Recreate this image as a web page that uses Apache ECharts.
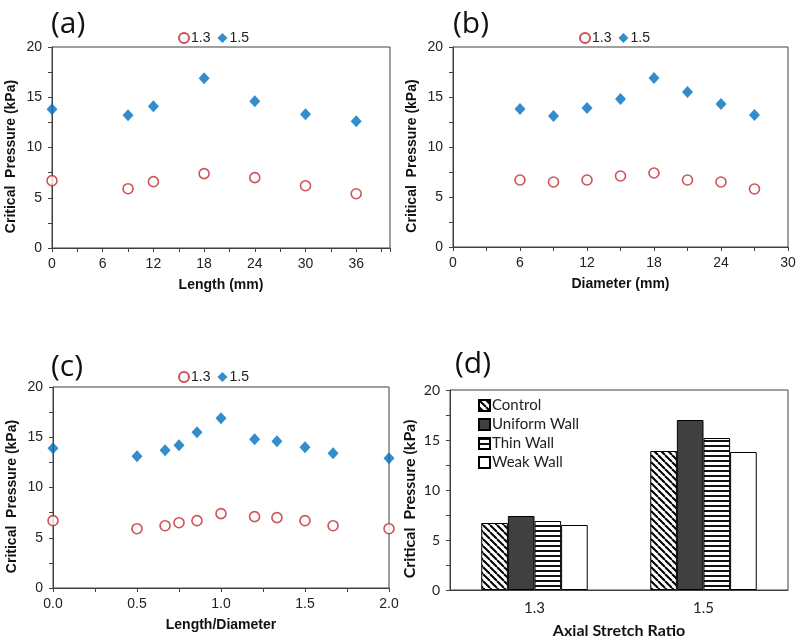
<!DOCTYPE html>
<html>
<head>
<meta charset="utf-8">
<script src="https://cdn.jsdelivr.net/npm/echarts@6/dist/echarts.min.js"></script>
<style>html,body{margin:0;padding:0;background:#fff;}#main{width:800px;height:640px;}</style>
</head>
<body>
<div id="main"></div>
<script>
// ---- data ----
const lengthMM = [0, 9, 12, 18, 24, 30, 36];
const lenP13 = [6.7, 5.9, 6.6, 7.4, 7.0, 6.2, 5.4];
const lenP15 = [13.8, 13.2, 14.1, 16.9, 14.6, 13.3, 12.6];

const diamMM = [6, 9, 12, 15, 18, 21, 24, 27];
const diamP13 = [6.7, 6.5, 6.7, 7.1, 7.4, 6.7, 6.5, 5.8];
const diamP15 = [13.8, 13.1, 13.9, 14.8, 16.9, 15.5, 14.3, 13.2];

const ratioLD = [0, 0.5, 0.667, 0.75, 0.857, 1.0, 1.2, 1.333, 1.5, 1.667, 2.0];
const ldP13 = [6.7, 5.9, 6.2, 6.5, 6.7, 7.4, 7.1, 7.0, 6.7, 6.2, 5.9];
const ldP15 = [13.9, 13.1, 13.7, 14.2, 15.5, 16.9, 14.8, 14.6, 14.0, 13.4, 12.9];

const stretchCats = ['1.3', '1.5'];
const controlP = [6.7, 13.9];
const uniformP = [7.4, 17.0];
const thinP = [6.9, 15.2];
const weakP = [6.5, 13.8];

const seriesNames = ['1.3', '1.5'];
const barNames = ['Control', 'Uniform Wall', 'Thin Wall', 'Weak Wall'];

// ---- styles ----
const RED = '#C0282D', BLUE = '#0070C0', AXC = '#404040';
const FONT = 'Liberation Sans, Arial, sans-serif';
const FONT_D = 'Lato, Open Sans, sans-serif';

function zip(xs, ys) { return xs.map((x, i) => [x, ys[i]]); }

function diagPattern() {
  const c = document.createElement('canvas'); c.width = 7; c.height = 7;
  const g = c.getContext('2d');
  g.fillStyle = '#fff'; g.fillRect(0, 0, 7, 7);
  g.strokeStyle = '#000'; g.lineWidth = 2;
  for (const k of [-7, 0, 7]) { g.beginPath(); g.moveTo(k, 0); g.lineTo(k + 7, 7); g.stroke(); }
  return { image: c, repeat: 'repeat' };
}
function hPattern() {
  const c = document.createElement('canvas'); c.width = 4; c.height = 5;
  const g = c.getContext('2d');
  g.fillStyle = '#fff'; g.fillRect(0, 0, 4, 5);
  g.fillStyle = '#111'; g.fillRect(0, 0, 4, 2);
  return { image: c, repeat: 'repeat' };
}

const grids = [
  { left: 52, top: 47, width: 338, height: 201 },
  { left: 453, top: 47, width: 335, height: 200 },
  { left: 53, top: 387, width: 336, height: 201 },
  { left: 450, top: 390, width: 338, height: 203 }
].map(g => Object.assign(g, { show: true, borderColor: AXC, borderWidth: 1, backgroundColor: 'transparent' }));

function valX(gi, min, max, interval, name, fmt, minor) {
  return {
    type: 'value', gridIndex: gi, min, max, interval,
    name, nameLocation: 'middle', nameGap: 30,
    nameTextStyle: { fontFamily: FONT, fontWeight: 'bold', fontSize: 14, color: '#111' },
    axisLine: { show: true, onZero: false, lineStyle: { color: AXC, width: 1 } },
    axisTick: { show: true, length: 4, lineStyle: { color: AXC } },
    minorTick: { show: !!minor, splitNumber: minor || 5, length: 4, lineStyle: { color: AXC } },
    splitLine: { show: false },
    axisLabel: { fontFamily: FONT, fontSize: 14, color: '#222', margin: 9, formatter: fmt, showMaxLabel: true }
  };
}
function valY(gi, fontFam, nameGap, nameSize) {
  return {
    type: 'value', gridIndex: gi, min: 0, max: 20, interval: 5,
    name: 'Critical  Pressure (kPa)', nameLocation: 'middle', nameGap: nameGap,
    nameTextStyle: { fontFamily: fontFam, fontWeight: 'bold', fontSize: nameSize, color: '#111', padding: [0, 18, 0, 0] },
    axisLine: { show: true, onZero: false, lineStyle: { color: AXC, width: 1 } },
    axisTick: { show: true, length: 4, lineStyle: { color: AXC } },
    minorTick: { show: true, splitNumber: 2, length: 4, lineStyle: { color: AXC } },
    splitLine: { show: false },
    axisLabel: { fontFamily: fontFam, fontSize: 14, color: '#222', margin: 10 }
  };
}

const xAxes = [
  valX(0, 0, 40, 3, 'Length (mm)', v => (v % 6 === 0 ? String(v) : '')),
  valX(1, 0, 30, 6, 'Diameter (mm)', v => String(v), 2),
  valX(2, 0, 2, 0.5, 'Length/Diameter', v => v.toFixed(1), 2),
  {
    type: 'category', gridIndex: 3, data: stretchCats,
    name: 'Axial Stretch Ratio', nameLocation: 'middle', nameGap: 33,
    nameTextStyle: { fontFamily: FONT_D, fontWeight: 'bold', fontSize: 16, color: '#111' },
    axisLine: { show: true, lineStyle: { color: AXC } },
    axisTick: { show: false },
    axisLabel: { fontFamily: FONT_D, fontSize: 15, color: '#222', margin: 11 }
  }
];
const yAxes = [valY(0, FONT, 34, 14), valY(1, FONT, 34, 14), valY(2, FONT, 34, 14), valY(3, FONT_D, 32, 16)];

function scatterPair(gi, xs, y13, y15) {
  return [
    { name: seriesNames[0], type: 'scatter', xAxisIndex: gi, yAxisIndex: gi, clip: false,
      symbol: 'circle', symbolSize: 10,
      itemStyle: { color: '#fff', borderColor: RED, borderWidth: 1.6 },
      data: zip(xs, y13) },
    { name: seriesNames[1], type: 'scatter', xAxisIndex: gi, yAxisIndex: gi, clip: false,
      symbol: 'diamond', symbolSize: [11, 12],
      itemStyle: { color: BLUE },
      data: zip(xs, y15) }
  ];
}

const barFills = [diagPattern(), '#404040', hPattern(), '#fff'];
const barData = [controlP, uniformP, thinP, weakP];
const barSeries = barNames.map((n, i) => ({
  name: n, type: 'bar', xAxisIndex: 3, yAxisIndex: 3,
  barGap: '0%', barCategoryGap: '37%',
  itemStyle: { color: barFills[i], borderColor: '#000', borderWidth: 1 },
  data: barData[i]
}));

function scLegend(left, top) {
  return {
    data: seriesNames, left, top, orient: 'horizontal',
    itemWidth: 10, itemHeight: 10, itemGap: 7,
    textStyle: { fontFamily: FONT, fontSize: 14, color: '#222', padding: [0, 0, 0, -3] },
    selectedMode: false
  };
}

const titles = [
  { text: '(a)', left: 46, top: 4 },
  { text: '(b)', left: 448, top: 4 },
  { text: '(c)', left: 46, top: 347 },
  { text: '(d)', left: 450, top: 344 }
].map(t => Object.assign(t, { textStyle: { fontFamily: 'Open Sans, sans-serif', fontWeight: 'normal', fontSize: 30, color: '#111' } }));

const option = {
  animation: false,
  backgroundColor: '#fff',
  title: titles,
  grid: grids,
  xAxis: xAxes,
  yAxis: yAxes,
  legend: [
    scLegend(173, 26),
    scLegend(574, 26),
    scLegend(173, 365),
    {
      data: barNames, left: 473, top: 393, orient: 'vertical',
      icon: 'rect', itemWidth: 11, itemHeight: 11, itemGap: 4,
      textStyle: { fontFamily: FONT_D, fontSize: 15, color: '#222', padding: [0, 0, 0, -3] },
      selectedMode: false
    }
  ],
  series: [
    ...scatterPair(0, lengthMM, lenP13, lenP15),
    ...scatterPair(1, diamMM, diamP13, diamP15),
    ...scatterPair(2, ratioLD, ldP13, ldP15),
    ...barSeries
  ]
};

const chart = echarts.init(document.getElementById('main'), null, { renderer: 'canvas' });
chart.setOption(option);
</script>
</body>
</html>
